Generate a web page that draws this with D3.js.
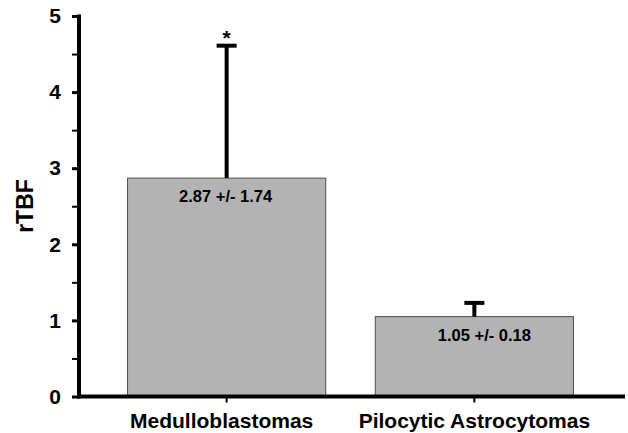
<!DOCTYPE html>
<html>
<head>
<meta charset="utf-8">
<script src="https://cdn.jsdelivr.net/npm/d3@7"></script>
<style>
  html, body { margin: 0; padding: 0; background: #ffffff; }
  svg { display: block; }
  text { font-family: "Liberation Sans", Arial, sans-serif; font-weight: bold; fill: #000; }
</style>
</head>
<body>
<svg id="chart" width="628" height="433"></svg>
<script>
// ---- data ----
const categories = ["Medulloblastomas", "Pilocytic Astrocytomas"];
const means = [2.87, 1.05];
const errors = [1.74, 0.18];
const valueLabels = ["2.87 +/- 1.74", "1.05 +/- 0.18"];
const significance = ["*", ""];
const yTicks = [0, 0.5, 1, 1.5, 2, 2.5, 3, 3.5, 4, 4.5, 5];
const yLabel = "rTBF";

// ---- layout ----
const svg = d3.select("#chart");
const y = d3.scaleLinear().domain([0, 5]).range([396.5, 16]);
const x = d3.scaleBand().domain(categories).range([78, 623]).paddingInner(0.2).paddingOuter(0.2);
const labelShift = [-1, 10];
const catShift = [-5, 0];

// bars
svg.append("g").selectAll("rect").data(categories).join("rect")
  .attr("x", d => x(d))
  .attr("y", (d, i) => y(means[i]))
  .attr("width", x.bandwidth())
  .attr("height", (d, i) => y(0) - y(means[i]))
  .attr("fill", "#b3b3b3")
  .attr("stroke", "#505050")
  .attr("stroke-width", 1);

// error bars (upper only)
const eg = svg.append("g").attr("stroke", "#000").attr("stroke-width", 4);
categories.forEach((c, i) => {
  const cx = x(c) + x.bandwidth() / 2;
  eg.append("line").attr("x1", cx).attr("x2", cx)
    .attr("y1", y(means[i])).attr("y2", y(means[i] + errors[i]));
  eg.append("line").attr("x1", cx - 10).attr("x2", cx + 10)
    .attr("y1", y(means[i] + errors[i])).attr("y2", y(means[i] + errors[i]));
  if (significance[i]) {
    svg.append("text").attr("x", cx).attr("y", y(means[i] + errors[i]) - 1)
      .attr("text-anchor", "middle").attr("font-size", 21).text(significance[i]);
  }
  svg.append("text").attr("x", cx + labelShift[i]).attr("y", y(means[i]) + 24)
    .attr("text-anchor", "middle").attr("font-size", 16.5).text(valueLabels[i]);
});

// y axis
const yAxis = d3.axisLeft(y).tickValues(yTicks)
  .tickFormat(d => Number.isInteger(d) ? d : "")
  .tickSize(7).tickPadding(11);
const yg = svg.append("g").attr("transform", "translate(79,0)").call(yAxis);
yg.select(".domain").remove();
yg.selectAll(".tick line").attr("stroke", "#000").attr("stroke-width", d => Number.isInteger(d) ? 3 : 2);
yg.selectAll(".tick text").attr("font-size", 21).attr("font-family", "Liberation Sans, Arial, sans-serif")
  .attr("font-weight", "bold").attr("fill", "#000");
svg.append("line").attr("x1", 79).attr("x2", 79).attr("y1", y(5) - 1.5).attr("y2", y(0) + 2)
  .attr("stroke", "#000").attr("stroke-width", 4);

// x axis
const xAxis = d3.axisBottom(x).tickSize(6).tickSizeOuter(0).tickPadding(11);
const xg = svg.append("g").attr("transform", `translate(0,${y(0)})`).call(xAxis);
xg.select(".domain").remove();
xg.selectAll(".tick line").attr("stroke", "#000").attr("stroke-width", 2);
xg.selectAll(".tick text").attr("font-size", 21).attr("font-family", "Liberation Sans, Arial, sans-serif")
  .attr("font-weight", "bold").attr("fill", "#000")
  .attr("dx", (d, i) => catShift[i]);
svg.append("line").attr("x1", 77).attr("x2", 625).attr("y1", y(0)).attr("y2", y(0))
  .attr("stroke", "#000").attr("stroke-width", 4);

// y label
svg.append("text").attr("transform", "translate(33,206) rotate(-90)")
  .attr("text-anchor", "middle").attr("font-size", 23).text(yLabel);
</script>
</body>
</html>
